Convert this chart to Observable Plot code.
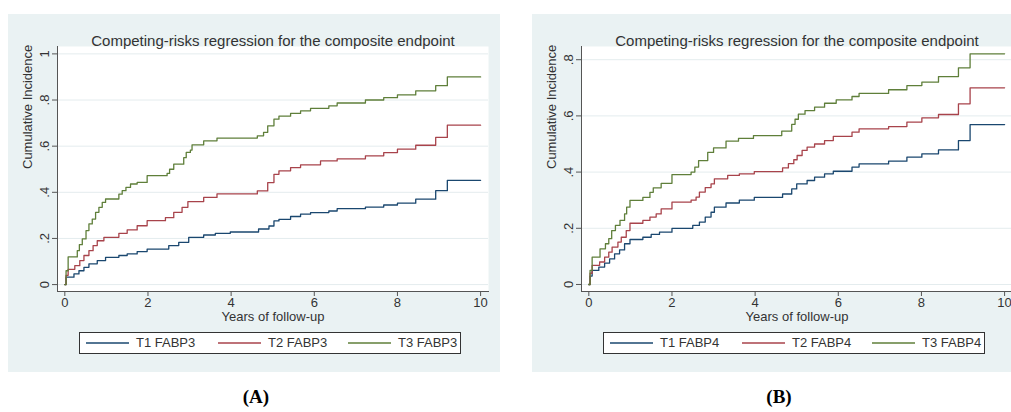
<!DOCTYPE html>
<html><head><meta charset="utf-8">
<script src="https://cdn.jsdelivr.net/npm/d3@7"></script>
<script src="https://cdn.jsdelivr.net/npm/@observablehq/plot@0.6"></script>
<style>
html,body{margin:0;padding:0;width:1011px;height:412px;overflow:hidden;background:#fff;font-family:"Liberation Sans",Arial,sans-serif;}
.panel{position:absolute;top:14px;width:492px;height:358px;background:#eaf2f3;}
.panel > svg{position:absolute;left:0;top:0;}
.legend{position:absolute;left:71px;top:318px;width:382px;height:22px;border:1px solid #333;background:#fff;box-sizing:border-box;font-size:13px;color:#333;}
.legend svg.ln{position:absolute;top:8px;width:43px;height:4px;}
.legend .tx{position:absolute;top:2px;white-space:nowrap;}
.lab{position:absolute;top:386px;width:60px;margin-left:-30px;text-align:center;font-family:"Liberation Serif","Times New Roman",serif;font-weight:bold;font-size:19px;color:#000;}
</style></head>
<body>
<div id="pA" class="panel" style="left:8px"></div>
<div id="pB" class="panel" style="left:532px"></div>
<div class="lab" style="left:256px">(A)</div>
<div class="lab" style="left:779px">(B)</div>
<script>
const chartTitle = "Competing-risks regression for the composite endpoint";
const xTitle = "Years of follow-up";
const yTitle = "Cumulative Incidence";
const namesA = ["T1 FABP3", "T2 FABP3", "T3 FABP3"];
const namesB = ["T1 FABP4", "T2 FABP4", "T3 FABP4"];
const seriesColors = ["#1a476f", "#a8434b", "#5f7f3a"];
const xTicks = [0, 2, 4, 6, 8, 10];
const yTicksA = [0, 0.2, 0.4, 0.6, 0.8, 1];
const yTicksB = [0, 0.2, 0.4, 0.6, 0.8];

// Panel A (FABP3): [years, cumulative incidence] step points
const A_T1 = [[0,0],[0.03,0.032],[0.22,0.046],[0.34,0.06],[0.46,0.075],[0.58,0.09],[0.78,0.104],[0.98,0.118],[1.3,0.126],[1.5,0.133],[1.74,0.143],[1.98,0.154],[2.5,0.169],[2.74,0.183],[2.98,0.205],[3.34,0.215],[3.62,0.222],[3.98,0.228],[4.66,0.241],[4.91,0.254],[5.03,0.276],[5.15,0.283],[5.43,0.295],[5.67,0.305],[5.91,0.312],[6.35,0.319],[6.55,0.329],[7.23,0.336],[7.67,0.345],[8.0,0.353],[8.44,0.37],[8.92,0.407],[9.2,0.452],[10,0.452]];
const A_T2 = [[0,0],[0.03,0.04],[0.08,0.066],[0.24,0.082],[0.36,0.104],[0.46,0.126],[0.58,0.147],[0.68,0.169],[0.78,0.19],[0.94,0.205],[1.3,0.222],[1.5,0.237],[1.74,0.255],[1.98,0.277],[2.42,0.29],[2.62,0.313],[2.82,0.335],[2.96,0.36],[3.34,0.378],[3.66,0.393],[4.63,0.406],[4.88,0.442],[5.03,0.478],[5.15,0.493],[5.43,0.507],[5.67,0.519],[6.15,0.536],[6.55,0.545],[7.23,0.558],[7.67,0.572],[8.0,0.587],[8.44,0.604],[8.92,0.638],[9.2,0.691],[10,0.691]];
const A_T3 = [[0,0],[0.03,0.06],[0.08,0.12],[0.3,0.147],[0.35,0.173],[0.42,0.198],[0.51,0.234],[0.58,0.263],[0.66,0.284],[0.74,0.313],[0.82,0.335],[0.9,0.356],[0.98,0.371],[1.3,0.392],[1.38,0.407],[1.47,0.421],[1.58,0.436],[1.74,0.443],[1.98,0.472],[2.46,0.482],[2.52,0.5],[2.62,0.522],[2.86,0.55],[2.92,0.573],[3.02,0.583],[3.06,0.606],[3.34,0.623],[3.66,0.635],[4.63,0.645],[4.78,0.66],[4.88,0.688],[5.03,0.717],[5.15,0.73],[5.43,0.742],[5.67,0.753],[5.91,0.764],[6.35,0.775],[6.55,0.787],[7.23,0.8],[7.67,0.81],[8.0,0.822],[8.44,0.84],[8.92,0.862],[9.2,0.9],[10,0.9]];

// Panel B (FABP4)
const B_T1 = [[0,0],[0.03,0.03],[0.08,0.05],[0.24,0.062],[0.38,0.076],[0.5,0.091],[0.62,0.109],[0.74,0.123],[0.86,0.145],[0.99,0.16],[1.3,0.168],[1.5,0.178],[1.7,0.186],[2.0,0.2],[2.5,0.21],[2.66,0.222],[2.8,0.24],[2.94,0.257],[3.02,0.275],[3.3,0.29],[3.62,0.3],[3.98,0.31],[4.66,0.322],[4.88,0.34],[5.0,0.358],[5.25,0.37],[5.43,0.382],[5.67,0.394],[5.88,0.403],[6.33,0.418],[6.5,0.429],[7.21,0.439],[7.65,0.453],[8.01,0.465],[8.41,0.479],[8.89,0.512],[9.17,0.569],[10,0.569]];
const B_T2 = [[0,0],[0.03,0.04],[0.08,0.068],[0.26,0.08],[0.38,0.097],[0.48,0.115],[0.56,0.133],[0.7,0.151],[0.78,0.168],[0.9,0.192],[0.99,0.218],[1.3,0.228],[1.47,0.24],[1.62,0.251],[1.74,0.269],[2.0,0.293],[2.46,0.3],[2.58,0.311],[2.66,0.329],[2.8,0.345],[2.94,0.358],[3.02,0.376],[3.34,0.388],[3.62,0.394],[3.98,0.402],[4.66,0.415],[4.8,0.43],[4.93,0.444],[5.01,0.459],[5.13,0.477],[5.25,0.489],[5.43,0.5],[5.67,0.512],[5.88,0.527],[6.33,0.542],[6.5,0.554],[7.21,0.562],[7.65,0.578],[8.01,0.593],[8.41,0.605],[8.89,0.643],[9.17,0.7],[10,0.7]];
const B_T3 = [[0,0],[0.03,0.05],[0.08,0.097],[0.27,0.127],[0.4,0.145],[0.48,0.163],[0.55,0.192],[0.64,0.21],[0.75,0.228],[0.86,0.251],[0.91,0.275],[0.99,0.299],[1.3,0.31],[1.47,0.328],[1.55,0.344],[1.74,0.36],[2.0,0.391],[2.46,0.4],[2.55,0.418],[2.64,0.441],[2.86,0.47],[3.0,0.486],[3.3,0.51],[3.6,0.52],[3.96,0.53],[4.64,0.546],[4.88,0.57],[4.96,0.588],[5.04,0.606],[5.2,0.619],[5.43,0.631],[5.67,0.645],[5.95,0.657],[6.33,0.669],[6.5,0.68],[7.21,0.693],[7.65,0.708],[8.01,0.72],[8.41,0.74],[8.89,0.771],[9.17,0.821],[10,0.821]];

const fmt = d => d === 0 ? "0" : d === 1 ? "1" : String(+d.toFixed(1)).replace(/^0/, "");

function rows(series, names) {
  return series.flatMap((s, i) => s.map(([t, v]) => ({t, v, g: names[i]})));
}

function panel(series, names, yTicks, yDomain) {
  return Plot.plot({
    width: 492, height: 358,
    marginLeft: 49, marginRight: 12, marginTop: 32, marginBottom: 81,
    style: {background: "transparent", fontFamily: "'Liberation Sans', Arial, sans-serif", fontSize: "13px", color: "#333", overflow: "visible"},
    x: {domain: [-0.176, 10.19]},
    y: {domain: yDomain},
    color: {domain: names, range: seriesColors},
    marks: [
      Plot.frame({fill: "white", stroke: "none"}),
      Plot.gridY(yTicks, {stroke: "#e4ecee", strokeOpacity: 1}),
      Plot.frame({anchor: "left", stroke: "#555"}),
      Plot.frame({anchor: "bottom", stroke: "#555"}),
      Plot.axisX(xTicks, {tickSize: 5, tickPadding: 1, label: null, stroke: "#555", fill: "#333", fontSize: 13}),
      Plot.axisY(yTicks, {tickSize: 5, tickPadding: 4, tickRotate: -90, tickFormat: fmt, label: null, stroke: "#555", fill: "#333", fontSize: 13}),
      Plot.line(rows(series, names), {x: "t", y: "v", stroke: "g", z: "g", curve: "step-after", strokeWidth: 1.3}),
      Plot.text([chartTitle], {text: d => d, frameAnchor: "top", dy: -11, fontSize: 15, fill: "#333"}),
      Plot.text([xTitle], {text: d => d, frameAnchor: "bottom", dy: 29, fontSize: 13, fill: "#333"}),
      Plot.text([yTitle], {text: d => d, frameAnchor: "left", dx: -30, rotate: -90, fontSize: 13, fill: "#333"})
    ]
  });
}

function legend(names) {
  const div = document.createElement("div");
  div.className = "legend";
  const lineX = [6, 138, 268];
  names.forEach((n, i) => {
    const svg = document.createElementNS("http://www.w3.org/2000/svg", "svg");
    svg.setAttribute("class", "ln");
    svg.setAttribute("width", "43");
    svg.setAttribute("height", "4");
    svg.style.left = lineX[i] + "px";
    const line = document.createElementNS("http://www.w3.org/2000/svg", "line");
    line.setAttribute("x1", "0"); line.setAttribute("x2", "43");
    line.setAttribute("y1", "2"); line.setAttribute("y2", "2");
    line.setAttribute("stroke", seriesColors[i]);
    line.setAttribute("stroke-width", "1.3");
    svg.appendChild(line);
    const t = document.createElement("div");
    t.className = "tx";
    t.style.left = (lineX[i] + 50) + "px";
    t.textContent = n;
    div.append(svg, t);
  });
  return div;
}

const pA = document.getElementById("pA");
pA.append(panel([A_T1, A_T2, A_T3], namesA, yTicksA, [-0.030, 1.032]), legend(namesA));
const pB = document.getElementById("pB");
pB.append(panel([B_T1, B_T2, B_T3], namesB, yTicksB, [-0.025, 0.847]), legend(namesB));
</script>
</body></html>
